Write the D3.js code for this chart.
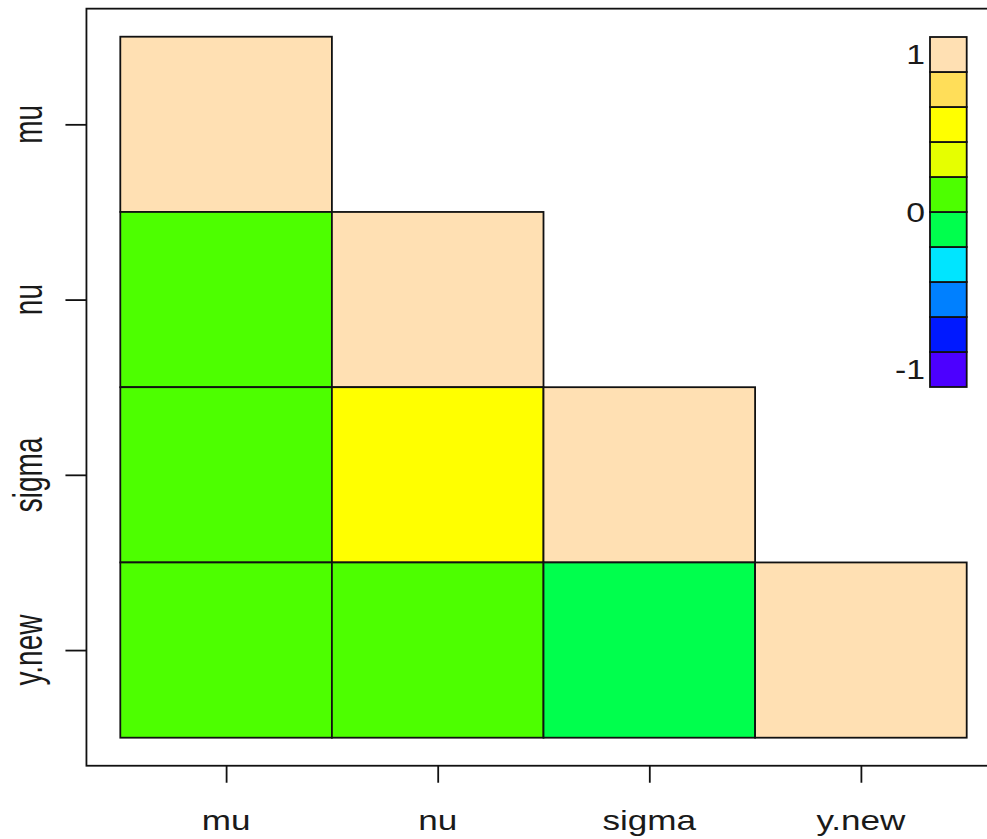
<!DOCTYPE html>
<html>
<head>
<meta charset="utf-8">
<script src="https://cdn.jsdelivr.net/npm/d3@7"></script>
<style>
  html, body { margin: 0; padding: 0; background: #fff; }
  svg { display: block; }
  text { font-family: "Liberation Sans", Arial, sans-serif; fill: #1a1a1a; }
</style>
</head>
<body>
<svg id="chart" width="987" height="839"></svg>
<script>
// Variables of the correlation matrix
const variables = ["mu", "nu", "sigma", "y.new"];

// Lower-triangle correlations, row by row (row variable vs column variable)
const corrMu    = [1];
const corrNu    = [0.08, 1];
const corrSigma = [0.1, 0.5, 1];
const corrYnew  = [0.12, 0.14, -0.06, 1];
const corrRows  = [corrMu, corrNu, corrSigma, corrYnew];

// Ten-step palette from -1 to 1
const paletteColors = ["#4C00FF", "#0019FF", "#0080FF", "#00E5FF", "#00FF4D",
                       "#4DFF00", "#E6FF00", "#FFFF00", "#FFDE59", "#FFE0B3"];
const legendTicks = [-1, 0, 1];

const svg = d3.select("#chart");
const lineW = 1.8;

// Cell grid: index 1..4 centred on each variable
const x = d3.scaleLinear().domain([0.5, 4.5]).range([120.3, 966.7]);
const y = d3.scaleLinear().domain([0.5, 4.5]).range([36.7, 737.7]);
const color = d3.scaleQuantize().domain([-1, 1]).range(paletteColors);

// Plot frame (extends 4% beyond the cells, right side runs off the page)
svg.append("rect")
  .attr("x", x(0.34)).attr("y", y(0.34))
  .attr("width", x(4.66) - x(0.34)).attr("height", y(4.66) - y(0.34))
  .attr("fill", "none").attr("stroke", "#111").attr("stroke-width", lineW);

// Cells
const cells = [];
corrRows.forEach((row, r) => row.forEach((v, c) => cells.push({ r, c, v })));
svg.append("g").selectAll("rect").data(cells).join("rect")
  .attr("x", d => x(d.c + 0.5))
  .attr("y", d => y(d.r + 0.5))
  .attr("width", d => x(d.c + 1.5) - x(d.c + 0.5))
  .attr("height", d => y(d.r + 1.5) - y(d.r + 0.5))
  .attr("fill", d => color(d.v))
  .attr("stroke", "#111").attr("stroke-width", lineW);

// Bottom axis
const xAxis = d3.axisBottom(x).tickValues([1, 2, 3, 4]).tickSize(17).tickFormat(() => "");
const gx = svg.append("g").attr("transform", `translate(0,${y(4.66)})`).call(xAxis);
gx.select(".domain").remove();
gx.selectAll(".tick line").attr("stroke", "#111").attr("stroke-width", lineW);
svg.append("g").selectAll("text").data(variables).join("text")
  .attr("transform", (d, i) => `translate(${x(i + 1)},830) scale(1.3,1)`)
  .attr("text-anchor", "middle")
  .attr("font-size", 27)
  .text(d => d);

// Left axis
const yAxis = d3.axisLeft(y).tickValues([1, 2, 3, 4]).tickSize(21).tickFormat(() => "");
const gy = svg.append("g").attr("transform", `translate(${x(0.34)},0)`).call(yAxis);
gy.select(".domain").remove();
gy.selectAll(".tick line").attr("stroke", "#111").attr("stroke-width", lineW);
svg.append("g").selectAll("text").data(variables).join("text")
  .attr("transform", (d, i) => `translate(42,${y(i + 1)}) scale(1.45,1) rotate(-90)`)
  .attr("text-anchor", "middle")
  .attr("font-size", 28)
  .text(d => d);

// Colour key
const keyX0 = 930, keyX1 = 966.7;
const keyY = d3.scaleLinear().domain([-1, 1]).range([387, 37]);
const bins = paletteColors.map((col, i) => ({ lo: -1 + i * 0.2, hi: -1 + (i + 1) * 0.2, col }));
svg.append("g").selectAll("rect").data(bins).join("rect")
  .attr("x", keyX0).attr("width", keyX1 - keyX0)
  .attr("y", d => keyY(d.hi)).attr("height", d => keyY(d.lo) - keyY(d.hi))
  .attr("fill", d => d.col)
  .attr("stroke", "#111").attr("stroke-width", lineW);

// Key labels sit from the centre of the lowest bin to the centre of the highest
const keyLabelY = d3.scaleLinear().domain([-1, 1]).range([keyY(-0.9), keyY(0.9)]);
svg.append("g").selectAll("text").data(legendTicks).join("text")
  .attr("transform", d => `translate(925,${keyLabelY(d) + 9.5}) scale(1.25,1)`)
  .attr("text-anchor", "end")
  .attr("font-size", 27)
  .text(d => d === -1 ? "-1" : String(d));
</script>
</body>
</html>
